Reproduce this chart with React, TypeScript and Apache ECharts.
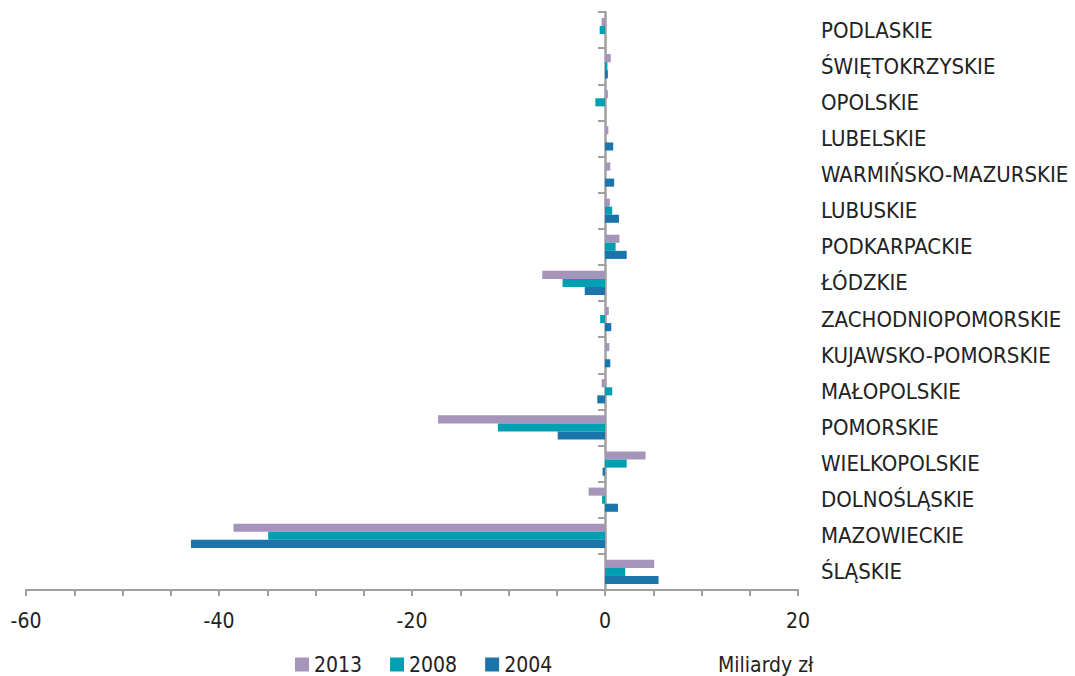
import React, { useEffect, useRef } from "react";
import * as echarts from "echarts";

const categories = [
  "PODLASKIE",
  "ŚWIĘTOKRZYSKIE",
  "OPOLSKIE",
  "LUBELSKIE",
  "WARMIŃSKO-MAZURSKIE",
  "LUBUSKIE",
  "PODKARPACKIE",
  "ŁÓDZKIE",
  "ZACHODNIOPOMORSKIE",
  "KUJAWSKO-POMORSKIE",
  "MAŁOPOLSKIE",
  "POMORSKIE",
  "WIELKOPOLSKIE",
  "DOLNOŚLĄSKIE",
  "MAZOWIECKIE",
  "ŚLĄSKIE",
];

const values2013 = [-0.35, 0.6, 0.3, 0.35, 0.55, 0.5, 1.5, -6.5, 0.4, 0.45, -0.35, -17.3, 4.2, -1.7, -38.5, 5.1];
const values2008 = [-0.55, 0.25, -1.0, 0, 0, 0.75, 1.1, -4.4, -0.5, 0, 0.75, -11.1, 2.25, -0.3, -34.9, 2.1];
const values2004 = [0, 0.3, 0, 0.85, 0.95, 1.45, 2.25, -2.1, 0.65, 0.55, -0.8, -4.9, -0.25, 1.35, -42.9, 5.55];

const seriesNames = ["2013", "2008", "2004"];
const colors = ["#A794BB", "#00A0B2", "#1B75AA"];
const unitLabel = "Miliardy zł";

const FONT = "'DejaVu Sans Condensed', 'Liberation Sans Narrow', sans-serif";

export default function App() {
  const ref = useRef<HTMLDivElement>(null);
  useEffect(() => {
    if (!ref.current) return;
    const chart = echarts.init(ref.current, undefined, { renderer: "svg" });
    const dataSets = [values2013, values2008, values2004];
    chart.setOption({
      animation: false,
      textStyle: { fontFamily: FONT },
      grid: { left: 26, right: 277, top: 12, bottom: 86, containLabel: false, outerBoundsMode: "none" },
      legend: {
        data: seriesNames,
        left: 290,
        top: 649,
        icon: "rect",
        itemWidth: 14,
        itemHeight: 14,
        itemGap: 28,
        textStyle: { fontSize: 21, color: "#222", fontFamily: FONT },
      },
      graphic: [
        {
          type: "text",
          left: 718,
          top: 654,
          style: { text: unitLabel, fontSize: 21, fill: "#222", fontFamily: FONT },
        },
      ],
      xAxis: {
        type: "value",
        min: -60,
        max: 20,
        interval: 5,
        splitLine: { show: false },
        axisLine: { show: true, lineStyle: { color: "#A0A0A0", width: 2 } },
        axisTick: { show: true, length: 6, lineStyle: { color: "#A0A0A0", width: 2 } },
        axisLabel: {
          margin: 20,
          fontSize: 21,
          color: "#222",
          fontFamily: FONT,
          formatter: (v: number) => (v % 20 === 0 ? String(v) : ""),
        },
      },
      yAxis: [
        {
          type: "category",
          data: categories,
          inverse: true,
          position: "left",
          axisLine: { show: true, onZero: true, lineStyle: { color: "#A0A0A0", width: 2.5 } },
          axisTick: { show: true, length: 7, lineStyle: { color: "#A0A0A0", width: 2 } },
          axisLabel: { show: false },
          splitLine: { show: false },
        },
        {
          type: "category",
          data: categories,
          inverse: true,
          position: "right",
          axisLine: { show: false, onZero: false },
          axisTick: { show: false },
          axisLabel: { show: true, margin: 23, fontSize: 22, color: "#222", fontFamily: FONT, align: "left" },
          splitLine: { show: false },
        },
      ],
      series: seriesNames.map((name, i) => ({
        name,
        type: "bar",
        yAxisIndex: 0,
        data: dataSets[i],
        barGap: "0%",
        barCategoryGap: "33%",
        itemStyle: { color: colors[i] },
      })),
    });
    return () => chart.dispose();
  }, []);
  return <div ref={ref} style={{ position: "absolute", left: 0, top: 0, width: 1075, height: 676 }} />;
}
